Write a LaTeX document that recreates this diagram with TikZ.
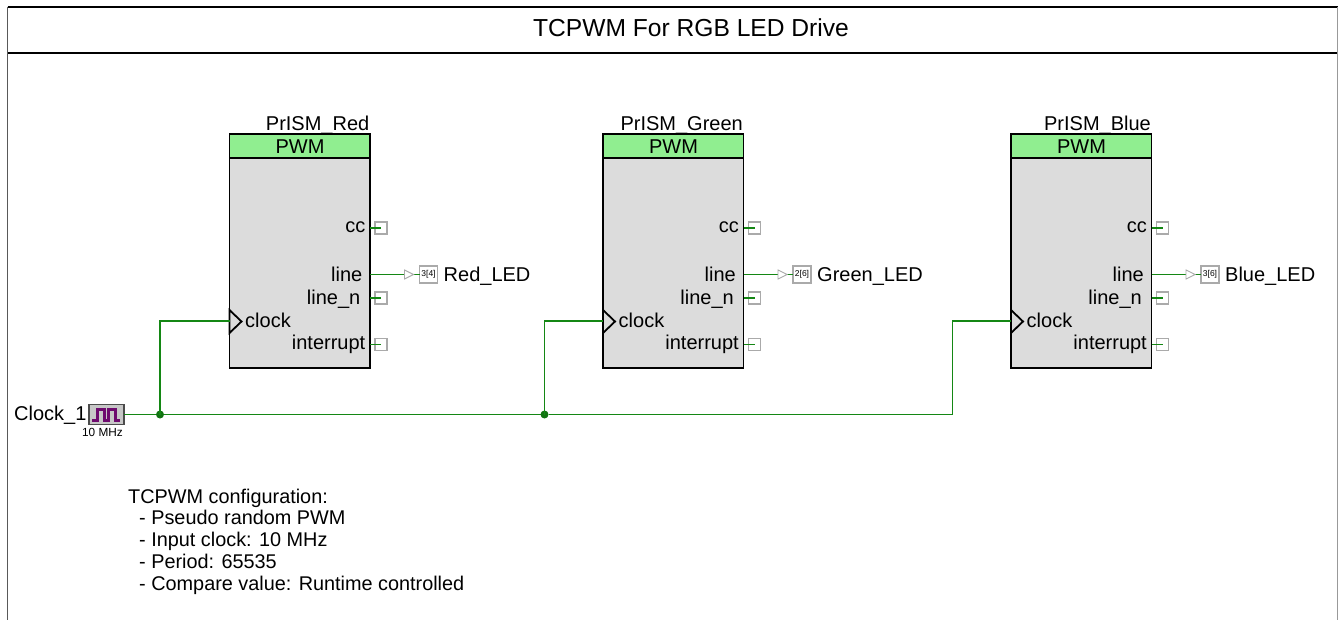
\documentclass[tikz,border=0pt]{standalone}
\usepackage{fontspec}
\setmainfont{Liberation Sans}
\definecolor{wirec}{RGB}{20,135,20}
\definecolor{headc}{RGB}{144,238,144}
\definecolor{bodyc}{RGB}{220,220,220}
\definecolor{stubc}{RGB}{170,170,170}
\definecolor{wavec}{RGB}{110,10,110}
\tikzset{
  wire/.style={draw=wirec,line width=1.2pt},
  dotj/.style={circle,fill=wirec!85!black,draw=none,minimum size=8pt,inner sep=0pt,outer sep=0pt},
  blockbody/.style={draw=black,line width=1.8pt,fill=bodyc,minimum width=140.5pt,minimum height=234pt,inner sep=0pt,outer sep=0pt,anchor=north west},
  blockhead/.style={draw=black,line width=1.8pt,fill=headc,minimum width=140.5pt,minimum height=24pt,inner sep=0pt,outer sep=0pt,anchor=north west},
  stubbox/.style={draw=stubc,line width=1.1pt,fill=white,minimum size=12pt,inner sep=0pt,outer sep=0pt},
  badge/.style={draw=stubc,line width=1.1pt,fill=white,minimum width=18pt,minimum height=17pt,inner sep=0pt,outer sep=0pt,font=\fontsize{8.5}{9}\selectfont},
  lbl/.style={inner sep=0pt,font=\fontsize{20}{22}\selectfont,text=black,yshift=-0.7pt},
  ttl/.style={inner sep=0pt,font=\fontsize{24.6}{26}\selectfont,text=black},
  cfg/.style={inner sep=0pt,font=\fontsize{19.85}{22}\selectfont,text=black,anchor=base west},
  frameline/.style={draw=black,line width=1.2pt},
}
\newcommand{\pwmblock}[5]{% id, x, name, signal, badge
  \node[blockbody] (#1) at (#2,134) {};
  \node[blockhead] (#1h) at (#2,134) {};
  \node[lbl,anchor=base] (#1pwm) at (#2+70.5,152.7) {PWM};
  \node[lbl,anchor=base east] (#1name) at (#2+140,130) {#3};
  \node[lbl,anchor=base east] (#1cc) at (#2+136,232) {cc};
  \node[lbl,anchor=base east] (#1line) at (#2+133,280.7) {line};
  \node[lbl,anchor=base east] (#1linen) at (#2+131,304) {line\_n};
  \node[lbl,anchor=base east] (#1int) at (#2+136,349) {interrupt};
  \node[lbl,anchor=base west] (#1clk) at (#2+15.5,327) {clock};
  \node[stubbox] (#1s1) at (#2+151.5,228) {};
  \node[stubbox] (#1s2) at (#2+151.5,298) {};
  \node[stubbox] (#1s3) at (#2+151.5,344.5) {};
  \draw[wire] (#1.east |- #1s1) -- (#1s1.center);
  \draw[wire] (#1.east |- #1s2) -- (#1s2.center);
  \draw[wire] (#1.east |- #1s3) -- (#1s3.center);
  \node[badge] (#1b) at (#2+199,274.5) {#5};
  \node[lbl,anchor=base west] (#1sig) at (#2+214,280.7) {#4};
  \draw[wire] (#1.east |- #1b) -- (#1b.west);
  \draw[draw=stubc,line width=.9pt,fill=white] (#2+175,270) -- (#2+184,274.5) -- (#2+175,279) -- cycle;
  \draw[draw=black,line width=1.8pt,fill=bodyc,line join=miter] (#2,310) -- (#2+12,321.5) -- (#2,333) -- cycle;
  \coordinate (#1in) at (#2,321);
}
\begin{document}
\begin{tikzpicture}[x=1pt,y=-1pt]
\useasboundingbox (0,0) rectangle (1338,620);
% frame
\coordinate (fbl) at (7.5,620);
\coordinate (ftl) at (7.5,7);
\coordinate (ftr) at (1337.5,7);
\coordinate (fbr) at (1337.5,620);
\coordinate (tl) at (7.5,53);
\coordinate (tr) at (1337.5,53);
\draw[frameline] (ftl) -- (ftr);
\draw[frameline] (tl) -- (tr);
\draw[draw=black!65,line width=1.2pt] (ftl) -- (fbl);
\draw[draw=black!40,line width=1.2pt] (ftr) -- (fbr);
\node[ttl,anchor=base] (title) at (691,37) {TCPWM For RGB LED Drive};
% blocks
\pwmblock{r}{229.5}{PrISM\_Red}{Red\_LED}{3[4]}
\pwmblock{g}{603}{PrISM\_Green}{Green\_LED}{2[6]}
\pwmblock{b}{1011}{PrISM\_Blue}{Blue\_LED}{3[6]}
% clock
\node[lbl,anchor=base west] (clkname) at (14,420) {Clock\_1};
\node[draw=black!70,line width=1.2pt,fill=black!22,minimum width=35pt,minimum height=20pt,inner sep=0pt,outer sep=0pt] (clk) at (106.5,414.5) {};
\draw[draw=wavec,line width=3pt] (92,420.5) -- (97,420.5) -- (97,409.5) -- (104,409.5) -- (104,420.5) -- (108.5,420.5) -- (108.5,409.5) -- (115,409.5) -- (115,420.5) -- (120,420.5);
\node[inner sep=0pt,anchor=base,font=\fontsize{11.8}{12}\selectfont] (clkf) at (102.5,436) {10 MHz};
% clock net
\node[dotj] (j1) at (160,414.5) {};
\node[dotj] (j2) at (544.5,414.5) {};
\coordinate (bend) at (952.5,414.5);
\draw[wire] (clk.east) -- (j1) -- (j2) -- (bend);
\draw[wire] (j1.center) -- (j1.center |- rin) -- (rin);
\draw[wire] (j2.center) -- (j2.center |- gin) -- (gin);
\draw[wire] (bend) -- (bend |- bin) -- (bin);
% notes
\node[cfg] (c1) at (128,503) {TCPWM configuration:};
\node[cfg] (c2) at (139,524) {- Pseudo random PWM};
\node[cfg] (c3) at (139,546) {- Input clock: 10 MHz};
\node[cfg] (c4) at (139,568) {- Period: 65535};
\node[cfg] (c5) at (139,590) {- Compare value: Runtime controlled};
\end{tikzpicture}
\end{document}
